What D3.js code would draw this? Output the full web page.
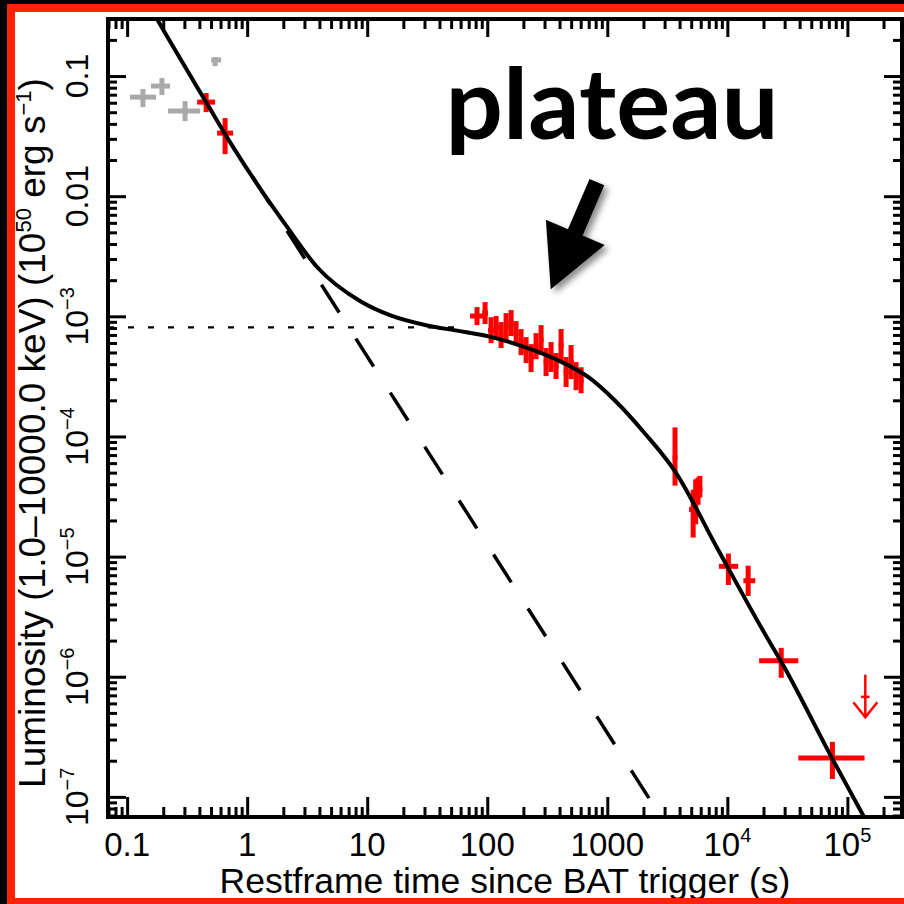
<!DOCTYPE html>
<html>
<head>
<meta charset="utf-8">
<script src="https://cdn.jsdelivr.net/npm/d3@7"></script>
<style>
html, body { margin: 0; padding: 0; background: #000; overflow: hidden; }
svg { display: block; }
text { font-family: "Liberation Sans", Arial, Helvetica, sans-serif; fill: #000; }
</style>
</head>
<body>
<div id="chart"></div>
<script>
width = 904;
height = 904;
var plot = {left: 108, right: 902, top: 19, bottom: 817};

// --- data (time in s, luminosity in 1e50 erg/s) ---

// best fit model (solid line)
var fitT = [0.15, 0.1774, 0.455, 0.764, 1.211, 2.158, 3.837, 8.77, 15.85, 31.6, 56.2, 102.8, 197.2, 372.4, 701.5, 1135, 2023, 3664, 8375, 21878, 28119, 74989, 158489];
var fitL = [0.40, 0.2985, 0.0607, 0.0256, 0.01259, 0.00552, 0.00256, 0.001334, 0.001012, 0.000839, 0.00076, 0.000681, 0.000562, 0.000439, 0.00031, 0.000203, 0.000108, 5.13e-5, 1.14e-5, 2.04e-6, 1.33e-6, 2.07e-7, 5.25e-8];

// steep decay component (dashed line)
var steepT = [1.11, 2800];
var steepL = [0.0145, 6.8e-8];

// plateau level (dotted line)
var plateauT = [0.0693, 58];
var plateauL = [8.1e-4, 8.1e-4];

// BAT points (grey)
var greyT   = [0.1355, 0.195, 0.304, 0.541];
var greyTlo = [0.1055, 0.158, 0.219, 0.501];
var greyThi = [0.174, 0.228, 0.405, 0.607];
var greyL   = [0.0668, 0.0826, 0.0511, 0.136];
var greyLlo = [0.0552, 0.0695, 0.0422, 0.121];
var greyLhi = [0.078, 0.0962, 0.0619, 0.144];

// XRT points (red)
var redT   = [0.455, 0.655,
    82.2, 95.9, 107.6, 118.5, 130.4, 143.5, 158, 173.8, 191.3, 210.6, 231.7, 255, 280.8, 309, 340.1, 374.4, 412, 453.5, 499.1, 549.3, 604.6,
    3665, 5190, 5450, 5700, 5900, 10200, 14900, 28100, 75000];
var redTlo = [0.383, 0.562,
    71.9, 90.6, 101.6, 113.9, 124.4, 137, 150.7, 165.9, 182.5, 200.9, 221, 243, 267.7, 294.8, 324.5, 357, 393, 432.6, 476, 524, 576.7,
    3500, 4800, 5300, 5300, 5700, 8500, 13600, 18400, 39000];
var redThi = [0.541, 0.764,
    100, 101.6, 113.9, 124.4, 137, 150.7, 165.9, 182.5, 200.9, 221, 243, 267.7, 294.8, 324.5, 357, 393, 432.6, 476, 524, 576.7, 634.8,
    3840, 5500, 5600, 6200, 6100, 12300, 17100, 39000, 139000];
var redL   = [0.0607, 0.0335,
    1.005e-3, 1.064e-3, 7.67e-4, 7.98e-4, 6.98e-4, 8.13e-4, 8.79e-4, 7.25e-4, 6.10e-4, 5.24e-4, 4.49e-4, 5.65e-4, 6.34e-4, 4.16e-4, 4.58e-4, 3.86e-4, 5.77e-4, 3.44e-4, 4.16e-4, 3.18e-4, 2.94e-4,
    6.7e-5, 2.47e-5, 2.98e-5, 3.6e-5, 4.0e-5, 8.3e-6, 6.3e-6, 1.36e-6, 2.11e-7];
var redLlo = [0.0501, 0.0224,
    8.46e-4, 8.62e-4, 5.98e-4, 6.34e-4, 5.44e-4, 6.22e-4, 6.85e-4, 5.76e-4, 4.75e-4, 4.08e-4, 3.43e-4, 4.40e-4, 4.76e-4, 3.18e-4, 3.44e-4, 3.01e-4, 4.25e-4, 2.58e-4, 3.00e-4, 2.43e-4, 2.29e-4,
    3.9e-5, 1.44e-5, 1.86e-5, 2.7e-5, 3.1e-5, 5.8e-6, 4.7e-6, 9.8e-7, 1.41e-7];
var redLhi = [0.0722, 0.0447,
    1.194e-3, 1.314e-3, 9.84e-4, 1.005e-3, 8.96e-4, 1.063e-3, 1.128e-3, 9.13e-4, 7.83e-4, 6.72e-4, 5.87e-4, 7.25e-4, 8.45e-4, 5.44e-4, 6.11e-4, 4.95e-4, 7.84e-4, 4.59e-4, 5.77e-4, 4.16e-4, 3.77e-4,
    1.19e-4, 3.6e-5, 4.4e-5, 4.55e-5, 4.7e-5, 1.06e-5, 8.4e-6, 1.74e-6, 2.87e-7];

// upper limit (red arrow)
var ulT = [141000], ulTlo = [130000], ulThi = [153000];
var ulL = [6.8e-7], ulTop = [1.04e-6], ulTip = [4.6e-7];

// axis tick labels: [base, exponent]
var xTickValues = [0.1, 1, 10, 100, 1000, 1e4, 1e5];
var xTickLabels = [["0.1", ""], ["1", ""], ["10", ""], ["100", ""], ["1000", ""], ["10", "4"], ["10", "5"]];
var yTickValues = [0.1, 0.01, 1e-3, 1e-4, 1e-5, 1e-6, 1e-7];
var yTickLabels = [["0.1", ""], ["0.01", ""], ["10", "\u22123"], ["10", "\u22124"], ["10", "\u22125"], ["10", "\u22126"], ["10", "\u22127"]];

// annotation
var noteText = "plateau";
var notePos = [45, 0.0299];
var arrowTail = [819, 0.0131];
var arrowTip = [338, 1.68e-3];

// --- scales ---
var x = d3.scaleLog().domain([0.0693, 2.85e5]).range([plot.left, plot.right]);
var y = d3.scaleLog().domain([6.8e-8, 0.2985]).range([plot.bottom, plot.top]);

var svg = d3.select("#chart").append("svg")
    .attr("width", width)
    .attr("height", height);

// frame: black outside, white page, red strips on left, top and bottom
svg.append("rect").attr("width", width).attr("height", height).attr("fill", "#000");
svg.append("rect").attr("x", 15).attr("y", 12).attr("width", width - 15).attr("height", 886).attr("fill", "#fff");
svg.append("rect").attr("x", 7).attr("y", 4).attr("width", 8).attr("height", height - 4).attr("fill", "#ff2200");
svg.append("rect").attr("x", 7).attr("y", 4).attr("width", width - 7).attr("height", 8).attr("fill", "#ff2200");

var defs = svg.append("defs");
defs.append("clipPath").attr("id", "clip")
  .append("rect")
    .attr("x", plot.left).attr("y", plot.top)
    .attr("width", plot.right - plot.left).attr("height", plot.bottom - plot.top);

var shadow = defs.append("filter").attr("id", "shadow")
    .attr("x", "-50%").attr("y", "-50%").attr("width", "200%").attr("height", "200%");
shadow.append("feDropShadow")
    .attr("dx", 4).attr("dy", 4).attr("stdDeviation", 3)
    .attr("flood-color", "#000").attr("flood-opacity", 0.45);

var g = svg.append("g").attr("clip-path", "url(#clip)");

// error bars
function drawBars(ts, tlo, thi, ls, llo, lhi, color, sw) {
    var pts = ts.map(function(t, i) {
        return {t: t, tlo: tlo[i], thi: thi[i], l: ls[i], llo: llo[i], lhi: lhi[i]};
    });
    var grp = g.append("g").attr("stroke", color).attr("stroke-width", sw);
    grp.selectAll(".h").data(pts).enter().append("line")
        .attr("x1", d => x(d.tlo)).attr("x2", d => x(d.thi))
        .attr("y1", d => y(d.l)).attr("y2", d => y(d.l));
    grp.selectAll(".v").data(pts).enter().append("line")
        .attr("x1", d => x(d.t)).attr("x2", d => x(d.t))
        .attr("y1", d => y(d.llo)).attr("y2", d => y(d.lhi));
}
drawBars(greyT, greyTlo, greyThi, greyL, greyLlo, greyLhi, "#a9a9a9", 5);
drawBars(redT, redTlo, redThi, redL, redLlo, redLhi, "#ff0000", 5);

// upper limit
var ul = ulT.map(function(t, i) {
    return {t: t, tlo: ulTlo[i], thi: ulThi[i], l: ulL[i], top: ulTop[i], tip: ulTip[i]};
});
var ulg = g.append("g").attr("stroke", "#ff0000").attr("stroke-width", 2.5).attr("fill", "none");
ulg.selectAll(".ulv").data(ul).enter().append("line")
    .attr("x1", d => x(d.t)).attr("x2", d => x(d.t))
    .attr("y1", d => y(d.top)).attr("y2", d => y(d.tip));
ulg.selectAll(".ulh").data(ul).enter().append("line")
    .attr("x1", d => x(d.tlo)).attr("x2", d => x(d.thi))
    .attr("y1", d => y(d.l)).attr("y2", d => y(d.l));
ulg.selectAll(".ulhead").data(ul).enter().append("path")
    .attr("d", d => "M" + (x(d.t) - 12) + "," + (y(d.tip) - 15) + "L" + x(d.t) + "," + y(d.tip) + "L" + (x(d.t) + 12) + "," + (y(d.tip) - 15));

// model lines
var line = d3.line().x(d => x(d[0])).y(d => y(d[1]));

g.append("path")
    .datum(d3.zip(plateauT, plateauL))
    .attr("d", line)
    .attr("fill", "none").attr("stroke", "#000")
    .attr("stroke-width", 2.2).attr("stroke-dasharray", "6,14");

g.append("path")
    .datum(d3.zip(steepT, steepL))
    .attr("d", line)
    .attr("fill", "none").attr("stroke", "#000")
    .attr("stroke-width", 3.5).attr("stroke-dasharray", "33,31");

g.append("path")
    .datum(d3.zip(fitT, fitL))
    .attr("d", line.curve(d3.curveMonotoneX))
    .attr("fill", "none").attr("stroke", "#000")
    .attr("stroke-width", 4).attr("stroke-linejoin", "round");

// axes: ticks point inward on all four sides
var xMinor = x.ticks().filter(v => xTickValues.indexOf(v) < 0);
var yMinor = y.ticks().filter(v => yTickValues.indexOf(v) < 0);

function addAxis(axis, tx, ty) {
    var a = svg.append("g")
        .attr("transform", "translate(" + tx + "," + ty + ")")
        .call(axis.tickFormat(""));
    a.select(".domain").remove();
    a.selectAll(".tick line").attr("stroke", "#000").attr("stroke-width", 3);
}
addAxis(d3.axisBottom(x).tickValues(xTickValues).tickSizeInner(-20).tickSizeOuter(0), 0, plot.bottom);
addAxis(d3.axisBottom(x).tickValues(xMinor).tickSizeInner(-10).tickSizeOuter(0), 0, plot.bottom);
addAxis(d3.axisTop(x).tickValues(xTickValues).tickSizeInner(-18).tickSizeOuter(0), 0, plot.top);
addAxis(d3.axisTop(x).tickValues(xMinor).tickSizeInner(-10).tickSizeOuter(0), 0, plot.top);
addAxis(d3.axisLeft(y).tickValues(yTickValues).tickSizeInner(-18).tickSizeOuter(0), plot.left, 0);
addAxis(d3.axisLeft(y).tickValues(yMinor).tickSizeInner(-9).tickSizeOuter(0), plot.left, 0);
addAxis(d3.axisRight(y).tickValues(yTickValues).tickSizeInner(-18).tickSizeOuter(0), plot.right, 0);
addAxis(d3.axisRight(y).tickValues(yMinor).tickSizeInner(-9).tickSizeOuter(0), plot.right, 0);

svg.append("rect")
    .attr("x", plot.left).attr("y", plot.top)
    .attr("width", plot.right - plot.left).attr("height", plot.bottom - plot.top)
    .attr("fill", "none").attr("stroke", "#000").attr("stroke-width", 4);

// tick labels
var xl = svg.append("g").selectAll("text")
    .data(d3.zip(xTickValues, xTickLabels))
    .enter().append("text")
    .attr("x", d => x(d[0]))
    .attr("y", 856)
    .attr("text-anchor", "middle")
    .style("font-size", "33px");
xl.append("tspan").text(d => d[1][0]);
xl.append("tspan").attr("dy", -14).style("font-size", "20px").text(d => d[1][1]);

var yl = svg.append("g").selectAll("text")
    .data(d3.zip(yTickValues, yTickLabels))
    .enter().append("text")
    .attr("transform", d => "translate(88," + y(d[0]) + ") rotate(-90)")
    .attr("text-anchor", "middle")
    .style("font-size", "32px");
yl.append("tspan").text(d => d[1][0]);
yl.append("tspan").attr("dy", -14).style("font-size", "20px").text(d => d[1][1]);

// axis titles
svg.append("text")
    .attr("x", (plot.left + plot.right) / 2)
    .attr("y", 893)
    .attr("text-anchor", "middle")
    .style("font-size", "35.5px")
    .text("Restframe time since BAT trigger (s)");

var yt = svg.append("text")
    .attr("transform", "translate(45,433) rotate(-90)")
    .attr("text-anchor", "middle")
    .style("font-size", "37px");
yt.append("tspan").text("Luminosity (1.0\u201310000.0 keV) (10");
yt.append("tspan").attr("dy", -14).style("font-size", "22px").text("50");
yt.append("tspan").attr("dy", 14).text(" erg s");
yt.append("tspan").attr("dy", -14).style("font-size", "22px").text("\u22121");
yt.append("tspan").attr("dy", 14).text(")");

// annotation: label and arrow
svg.append("text")
    .attr("x", x(notePos[0]))
    .attr("y", y(notePos[1]))
    .attr("textLength", 333)
    .attr("lengthAdjust", "spacingAndGlyphs")
    .style("font-family", "Lato, 'Open Sans', sans-serif")
    .style("font-weight", 700)
    .style("font-size", "98px")
    .text(noteText);

var p0 = [x(arrowTail[0]), y(arrowTail[1])];
var p1 = [x(arrowTip[0]), y(arrowTip[1])];
var len = Math.hypot(p1[0] - p0[0], p1[1] - p0[1]);
var ux = (p1[0] - p0[0]) / len, uy = (p1[1] - p0[1]) / len;
var nx = -uy, ny = ux;
var headLen = 62, headW = 32, shaftW = 8;
var bx = p1[0] - ux * headLen, by = p1[1] - uy * headLen;
var arrowPts = [
    [p0[0] + nx * shaftW, p0[1] + ny * shaftW],
    [bx + nx * shaftW, by + ny * shaftW],
    [bx + nx * headW, by + ny * headW],
    p1,
    [bx - nx * headW, by - ny * headW],
    [bx - nx * shaftW, by - ny * shaftW],
    [p0[0] - nx * shaftW, p0[1] - ny * shaftW]
];
svg.append("polygon")
    .attr("points", arrowPts.map(p => p.join(",")).join(" "))
    .attr("fill", "#000")
    .attr("filter", "url(#shadow)");

// bottom red edge sits over the title's descenders
svg.append("rect").attr("x", 7).attr("y", 898).attr("width", width - 7).attr("height", 6).attr("fill", "#ff2200");
</script>
</body>
</html>
